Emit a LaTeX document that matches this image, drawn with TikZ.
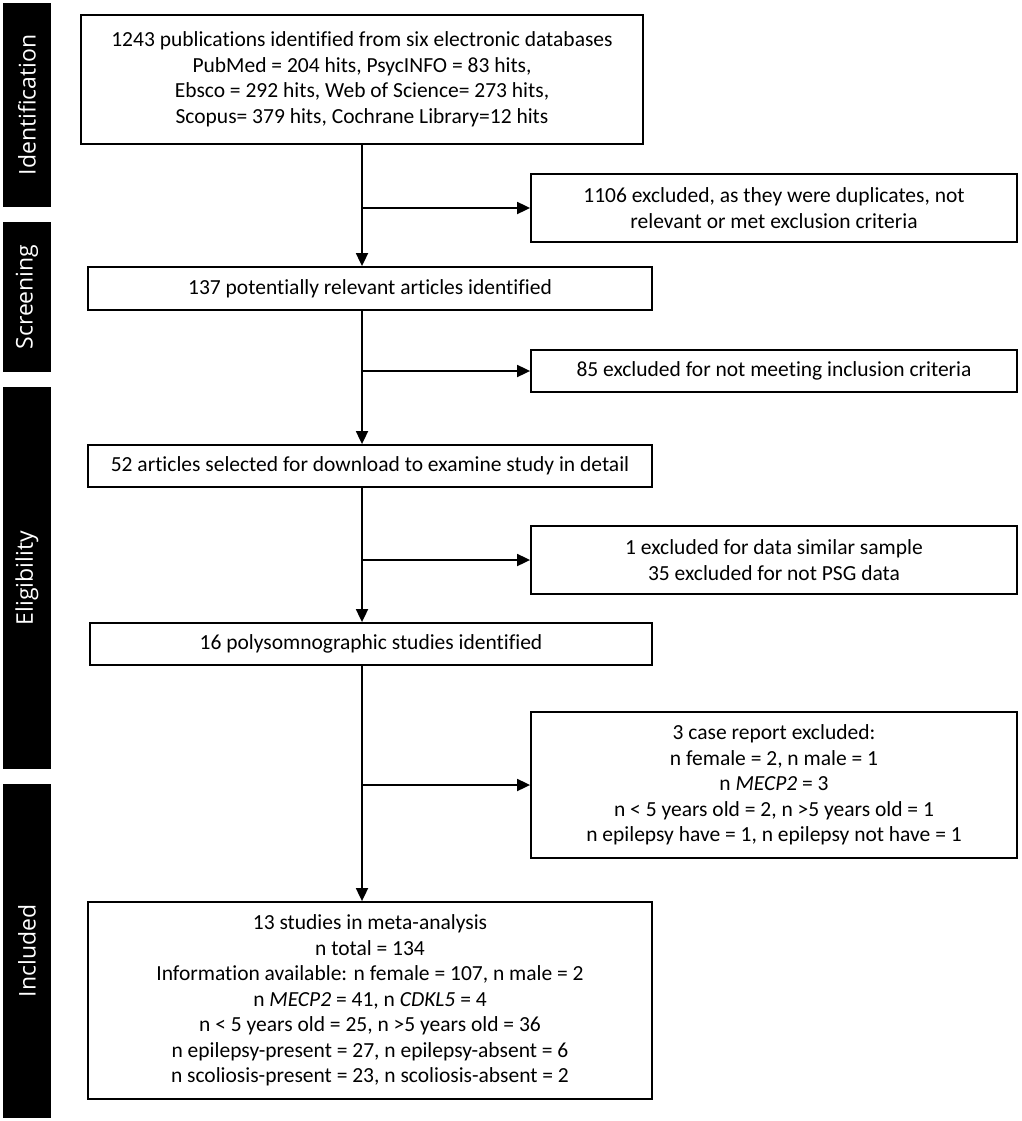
\documentclass[tikz,border=0pt]{standalone}
\usepackage{fontspec}
\setmainfont{Carlito}[Ligatures = NoCommon]
\newfontfamily\phasefont{Open Sans}
\usetikzlibrary{arrows.meta}

\tikzset{
	box/.style = {draw, line width = 1.8pt, inner sep = 0pt, align = center, font = \fontsize{21.5}{25.5}\selectfont},
	phase/.style = {fill = black, text = white, rotate = 90, inner sep = 0pt, minimum height = 48pt, font = \phasefont\fontsize{23}{27}\selectfont},
	flow/.style = {line width = 1.8pt, -{Triangle[length = 13pt, width = 12pt]}}
}

\begin{document}
\begin{tikzpicture}[x = 1pt, y = -1pt]
	\useasboundingbox (0, 0) rectangle (1021, 1121);

	% Phasen:
	\node [phase, minimum width = 204pt] (phid) at (27, 105) {Identification};
	\node [phase, minimum width = 150pt] (phsc) at (27, 297) {Screening};
	\node [phase, minimum width = 382pt] (phel) at (27, 578) {Eligibility};
	\node [phase, minimum width = 334pt] (phin) at (27, 951) {Included};

	% Hauptspalte:
	\node [box, minimum width = 562pt, minimum height = 129pt] (idf) at (362, 79.5) {1243 publications identified from six electronic databases\\PubMed = 204 hits, PsycINFO = 83 hits,\\Ebsco = 292 hits, Web of Science= 273 hits,\\Scopus= 379 hits, Cochrane Library=12 hits};
	\node [box, minimum width = 564pt, minimum height = 43pt] (scr) at (370, 288.5) {137 potentially relevant articles identified};
	\node [box, minimum width = 564pt, minimum height = 42pt] (elg) at (370, 466) {52 articles selected for download to examine study in detail};
	\node [box, minimum width = 562pt, minimum height = 42pt] (psg) at (371, 644) {16 polysomnographic studies identified};
	\node [box, minimum width = 564pt, minimum height = 197pt] (inc) at (370, 1000.5) {13 studies in meta-analysis\\n total = 134\\Information available: n female = 107, n male = 2\\n \textit{MECP2} = 41, n \textit{CDKL5} = 4\\n < 5 years old = 25, n >5 years old = 36\\n epilepsy-present = 27, n epilepsy-absent = 6\\n scoliosis-present = 23, n scoliosis-absent = 2};

	% Ausschluss:
	\begin{scope}[every node/.append style = {minimum width = 486pt}]
		\node [box, minimum height = 68pt] (ex1) at (774, 208) {1106 excluded, as they were duplicates, not\\relevant or met exclusion criteria};
		\node [box, minimum height = 42pt] (ex2) at (774, 371) {85 excluded for not meeting inclusion criteria};
		\node [box, minimum height = 68pt] (ex3) at (774, 560) {1 excluded for data similar sample\\35 excluded for not PSG data};
		\node [box, minimum height = 146pt] (ex4) at (774, 785) {3 case report excluded:\\n female = 2, n male = 1\\n \textit{MECP2} = 3\\n < 5 years old = 2, n >5 years old = 1\\n epilepsy have = 1, n epilepsy not have = 1};
	\end{scope}

	% Pfeile:
	\draw [flow] (idf.south) -- (idf.south |- scr.north);
	\draw [flow] (scr.south -| idf.south) -- (elg.north -| idf.south);
	\draw [flow] (elg.south -| idf.south) -- (psg.north -| idf.south);
	\draw [flow] (psg.south -| idf.south) -- (inc.north -| idf.south);
	\foreach \ex in {ex1, ex2, ex3, ex4} {
		\draw [flow] (idf.south |- \ex.west) -- (\ex.west);
	}
\end{tikzpicture}
\end{document}
